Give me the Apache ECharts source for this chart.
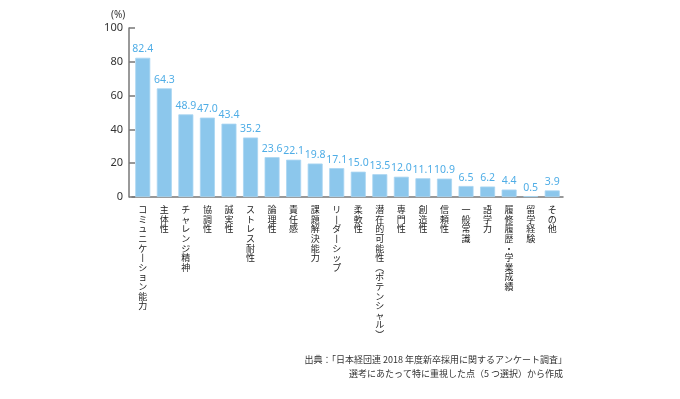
<!DOCTYPE html>
<html>
<head>
<meta charset="utf-8">
<script src="https://cdn.jsdelivr.net/npm/echarts@6/dist/echarts.min.js"></script>
<style>
  html, body { margin: 0; padding: 0; background: #fff; }
  #main { width: 680px; height: 399px; }
</style>
</head>
<body>
<div id="main"></div>
<script>
// 重視した点（カテゴリ）
var categories = [
  "コミュニケーション能力", "主体性", "チャレンジ精神", "協調性", "誠実性",
  "ストレス耐性", "論理性", "責任感", "課題解決能力", "リーダーシップ",
  "柔軟性", "潜在的可能性（ポテンシャル）", "専門性", "創造性", "信頼性",
  "一般常識", "語学力", "履修履歴・学業成績", "留学経験", "その他"
];
var values = [82.4, 64.3, 48.9, 47.0, 43.4, 35.2, 23.6, 22.1, 19.8, 17.1,
  15.0, 13.5, 12.0, 11.1, 10.9, 6.5, 6.2, 4.4, 0.5, 3.9];
var yTicks = [0, 20, 40, 60, 80, 100];
var sourceLines = [
  "出典：「日本経団連 2018 年度新卒採用に関するアンケート調査」",
  "選考にあたって特に重視した点（5 つ選択）から作成"
];

var FONT = '"Noto Sans CJK JP", "Noto Sans", sans-serif';
var NUM_FONT = '"Noto Sans", "Noto Sans CJK JP", sans-serif';

// 縦書き風に1文字ずつ改行
function vertical(s) {
  return s.replace(/ー/g, "丨")
    .replace(/（/g, "︵")
    .replace(/）/g, "︶")
    .split("").join("\n");
}

var chart = echarts.init(document.getElementById("main"));
chart.setOption({
  animation: false,
  grid: { left: 132, right: 117, top: 28, bottom: 202 },
  xAxis: {
    type: "category",
    data: categories,
    axisLine: { lineStyle: { color: "#777", width: 1.5 } },
    axisTick: { show: false },
    axisLabel: {
      interval: 0,
      margin: 8,
      verticalAlign: "top",
      color: "#222",
      fontFamily: FONT,
      fontSize: 9,
      lineHeight: 9.6,
      formatter: vertical
    }
  },
  yAxis: {
    type: "value",
    min: yTicks[0],
    max: yTicks[yTicks.length - 1],
    interval: 20,
    offset: 3,
    axisLine: { show: true, lineStyle: { color: "#777", width: 1.5 } },
    axisTick: { show: true, inside: true, length: 6, lineStyle: { color: "#777", width: 1.5 } },
    splitLine: { show: false },
    axisLabel: { color: "#333", fontFamily: NUM_FONT, fontSize: 11, margin: 6 }
  },
  series: [{
    type: "bar",
    data: values,
    barWidth: 15,
    itemStyle: { color: "#8cc7ec", borderColor: "#a9d6f2", borderWidth: 0.8 },
    label: {
      show: true,
      position: "top",
      distance: 3,
      color: "#4fade6",
      fontFamily: NUM_FONT,
      fontSize: 10.5,
      formatter: function (p) { return p.value.toFixed(1); }
    }
  }],
  graphic: [
    { type: "text", left: 111, top: 10,
      style: { text: "(%)", fill: "#333", font: "10px " + NUM_FONT } },
    { type: "text", right: 113, top: 355,
      style: { text: sourceLines[0], fill: "#333", font: "9px " + FONT } },
    { type: "text", right: 117, top: 369,
      style: { text: sourceLines[1], fill: "#333", font: "9px " + FONT } }
  ]
});
</script>
</body>
</html>
